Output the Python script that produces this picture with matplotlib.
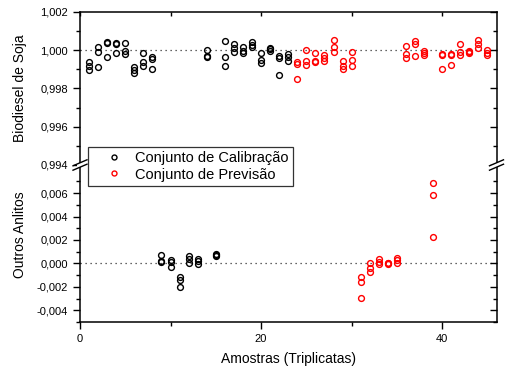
import numpy as np
import matplotlib
matplotlib.use("Agg")
import matplotlib.pyplot as plt
from matplotlib.ticker import FixedLocator, FuncFormatter, MultipleLocator, NullFormatter
from matplotlib.lines import Line2D
from matplotlib.patches import Rectangle

plt.rcParams['font.family'] = ['Liberation Sans', 'DejaVu Sans']

# amostras do conjunto de calibracao (biodiesel de soja)
cal_soja_amostras = [1, 2, 3, 4, 5, 6, 7, 8, 14, 16, 17, 18, 19, 20, 21, 22, 23]
cal_soja = [
    [0.99937, 0.99917, 0.99897],
    [1.00017, 0.99991, 0.99911],
    [1.00042, 1.00035, 0.99965],
    [1.00035, 1.00030, 0.99983],
    [1.00035, 0.99997, 0.99979],
    [0.99910, 0.99896, 0.99878],
    [0.99983, 0.99939, 0.99917],
    [0.99962, 0.99953, 0.99901],
    [1.00000, 0.99969, 0.99962],
    [1.00049, 0.99962, 0.99918],
    [1.00030, 1.00009, 0.99990],
    [1.00017, 0.99997, 0.99983],
    [1.00042, 1.00026, 1.00014],
    [0.99983, 0.99948, 0.99930],
    [1.00012, 1.00003, 0.99997],
    [0.99970, 0.99957, 0.99871],
    [0.99979, 0.99962, 0.99944],
]

# amostras do conjunto de previsao (biodiesel de soja)
prev_soja_amostras = [24, 25, 26, 27, 28, 29, 30, 36, 37, 38, 40, 41, 42, 43, 44, 45]
prev_soja = [
    [0.99939, 0.99925, 0.99850],
    [1.00000, 0.99944, 0.99920],
    [0.99983, 0.99942, 0.99936],
    [0.99976, 0.99960, 0.99944],
    [1.00054, 1.00017, 0.99991],
    [0.99941, 0.99917, 0.99899],
    [0.99988, 0.99946, 0.99915],
    [1.00019, 0.99979, 0.99958],
    [1.00049, 1.00030, 0.99970],
    [0.99995, 0.99983, 0.99974],
    [0.99979, 0.99976, 0.99903],
    [0.99977, 0.99974, 0.99920],
    [1.00030, 0.99991, 0.99974],
    [0.99997, 0.99988, 0.99983],
    [1.00052, 1.00033, 1.00009],
    [1.00000, 0.99983, 0.99972],
]

# outros analitos
cal_outros_amostras = [9, 10, 11, 12, 13, 15]
cal_outros = [
    [0.00072, 0.00018, 0.00008],
    [0.00028, 0.00009, -0.00030],
    [-0.00120, -0.00140, -0.00200],
    [0.00066, 0.00037, 0.00006],
    [0.00034, 0.00023, -0.00009],
    [0.00077, 0.00070, 0.00063],
]
prev_outros_amostras = [31, 32, 33, 34, 35, 39]
prev_outros = [
    [-0.00114, -0.00160, -0.00293],
    [0.00006, -0.00043, -0.00077],
    [0.00037, 0.00014, -0.00009],
    [0.00006, 0.00000, -0.00003],
    [0.00043, 0.00026, 0.00006],
    [0.00684, 0.00586, 0.00222],
]

W, H = 505, 376
fig = plt.figure(figsize=(W / 100, H / 100), dpi=100)
left, right = 80 / W, 496.5 / W
y_top, y_mid, y_bot = 1 - 11.7 / H, 1 - 165 / H, 1 - 322 / H
ax1 = fig.add_axes([left, y_mid, right - left, y_top - y_mid])
ax2 = fig.add_axes([left, y_bot, right - left, y_mid - y_bot])

mk = dict(linestyle='none', marker='o', markersize=4.2, markerfacecolor='none',
          markeredgewidth=1.0)


def plot_set(ax, amostras, valores, cor, label=None):
    xs = np.repeat(amostras, 3)
    ys = np.ravel(valores)
    return ax.plot(xs, ys, markeredgecolor=cor, label=label, **mk)[0]


h_cal = plot_set(ax1, cal_soja_amostras, cal_soja, 'black', 'Conjunto de Calibração')
h_prev = plot_set(ax1, prev_soja_amostras, prev_soja, 'red', 'Conjunto de Previsão')
plot_set(ax2, cal_outros_amostras, cal_outros, 'black')
plot_set(ax2, prev_outros_amostras, prev_outros, 'red')

ax1.axhline(1.0, color='#333333', linestyle=(0, (1, 3)), linewidth=0.9, zorder=0)
ax2.axhline(0.0, color='#333333', linestyle=(0, (1, 3)), linewidth=0.9, zorder=0)

fmt = FuncFormatter(lambda v, p: f"{v:.3f}".replace('.', ','))

# eixo superior
ax1.set_ylim(0.994, 1.002)
maj1 = MultipleLocator(0.002)
min1 = MultipleLocator(0.001)
ax1.yaxis.set_major_locator(maj1)
ax1.yaxis.set_minor_locator(min1)
ax1.spines['bottom'].set_visible(False)
ax1.tick_params(axis='x', which='both', bottom=False, labelbottom=False,
                top=True, direction='in', length=3, width=1.0)

# eixo inferior
ax2.set_ylim(-0.005, 0.0084)
maj2 = [-0.004, -0.002, 0.0, 0.002, 0.004, 0.006]
min2 = [-0.005, -0.003, -0.001, 0.001, 0.003, 0.005, 0.007]
ax2.yaxis.set_major_locator(FixedLocator(maj2))
ax2.yaxis.set_minor_locator(FixedLocator(min2))
ax2.spines['top'].set_visible(False)
ax2.tick_params(axis='x', which='both', top=False, bottom=True, direction='out',
                labelsize=8, width=1.0)
ax2.tick_params(axis='x', which='major', length=5)
ax2.tick_params(axis='x', which='minor', length=3)

for ax, mj, mn in ((ax1, maj1, min1), (ax2, FixedLocator(maj2), FixedLocator(min2))):
    ax.set_xlim(0, 46)
    ax.xaxis.set_major_locator(MultipleLocator(20))
    ax.xaxis.set_minor_locator(MultipleLocator(10))
    for s in ax.spines.values():
        s.set_linewidth(1.1)
    ax.spines['right'].set_visible(False)
    ax.yaxis.set_major_formatter(fmt)
    ax.tick_params(axis='y', which='both', left=True, right=False, direction='out',
                   labelsize=8, width=1.0)
    ax.tick_params(axis='y', which='major', length=5)
    ax.tick_params(axis='y', which='minor', length=3)
    # eixo direito com marcas para dentro
    sec = ax.secondary_yaxis('right')
    sec.spines['right'].set_linewidth(1.1)
    sec.yaxis.set_major_locator(mj)
    sec.yaxis.set_minor_locator(mn)
    sec.yaxis.set_major_formatter(NullFormatter())
    sec.tick_params(axis='y', which='both', direction='in', width=1.0)
    sec.tick_params(axis='y', which='major', length=5)
    sec.tick_params(axis='y', which='minor', length=3)

# quebra de eixo
for xb in (left, right):
    xp = xb * W
    yp = 165
    fig.patches.append(Rectangle(((xp - 3) / W, 1 - (yp + 2) / H), 6 / W, 4 / H,
                                 transform=fig.transFigure, facecolor='white',
                                 edgecolor='none', zorder=10))
    for dy in (-2.2, 2.2):
        fig.lines.append(Line2D([(xp - 7) / W, (xp + 7) / W],
                                [1 - (yp + dy + 3) / H, 1 - (yp + dy - 3) / H],
                                transform=fig.transFigure, color='black',
                                linewidth=1.0, zorder=11))

ax2.set_xlabel('Amostras (Triplicatas)', fontsize=10, labelpad=6)
fig.text(20 / W, 1 - 88 / H, 'Biodiesel de Soja', rotation=90, fontsize=10,
         ha='center', va='center')
fig.text(20 / W, 1 - 235 / H, 'Outros Anlitos', rotation=90, fontsize=10,
         ha='center', va='center')

leg = fig.legend(handles=[h_cal, h_prev], loc='upper left',
                 bbox_to_anchor=(88 / W, 1 - 147 / H), borderaxespad=0,
                 fontsize=10.5, frameon=True, fancybox=False, edgecolor='#333333',
                 framealpha=1, handlelength=2.9, handletextpad=0.05,
                 borderpad=0.3, labelspacing=0.15, markerscale=0.85)
leg.get_frame().set_linewidth(0.9)
leg.set_zorder(20)

fig.savefig('out.png', dpi=100)
